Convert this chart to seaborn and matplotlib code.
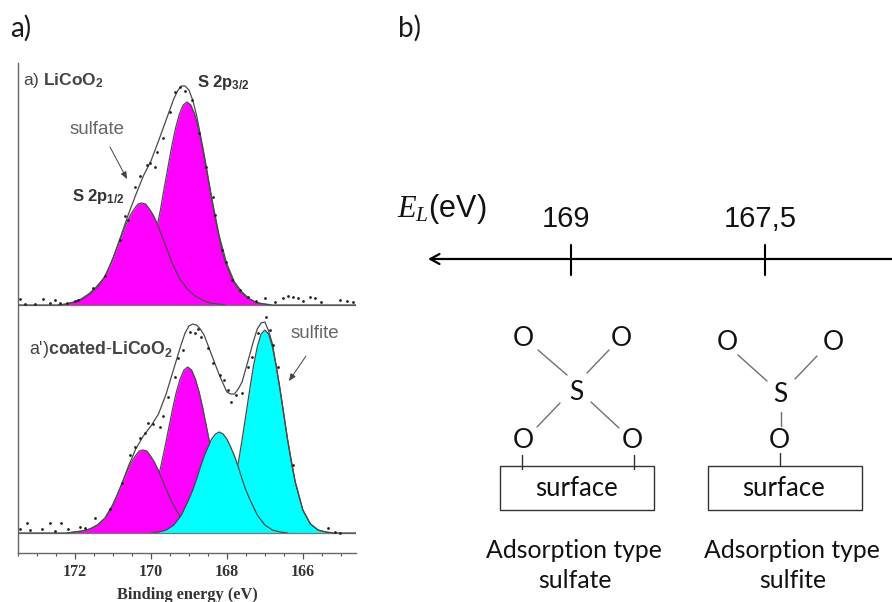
import matplotlib
matplotlib.use("Agg")
import matplotlib.pyplot as plt
from matplotlib.ticker import MultipleLocator
from matplotlib.patches import Rectangle
import numpy as np
import seaborn as sns

sns.set_theme(style="white")
plt.rcParams.update({
    "font.family": ["Liberation Sans", "DejaVu Sans"],
    "mathtext.fontset": "custom",
    "mathtext.rm": "Liberation Sans",
    "mathtext.bf": "Liberation Sans:bold",
    "mathtext.it": "Liberation Serif:italic",
})

# ---------- data ----------
BASE_TOP = 248
BASE_BOT = 20

top_e_p12 = [172.44,172.24,172.04,171.84,171.64,171.44,171.24,171.04,170.94,170.84,170.74,170.64,170.54,170.44,170.34,170.24,170.14,170.04,169.94,169.84,169.74,169.64,169.54,169.44,169.24,169.04,168.84,168.64,168.44,168.24,168.04]
top_h_p12 = [0,1,3,6,11,18,27,42,52,62,72,82,90,96,101,102,101,96,90,82,72,62,52,42,26,16,9,5,2,1,0]
top_e_p32 = [171.25,171.05,170.85,170.65,170.45,170.25,170.05,169.95,169.85,169.75,169.65,169.55,169.45,169.35,169.25,169.15,169.05,168.95,168.85,168.75,168.65,168.55,168.45,168.35,168.25,168.15,168.05,167.85,167.65,167.45,167.25,167.05,166.85]
top_h_p32 = [0,1,3,7,13,25,44,58,76,95,117,138,159,177,191,200,203,200,191,177,159,138,117,95,76,58,44,25,13,7,3,1,0]
top_e_env = [173.5,172.4,172.2,172.0,171.8,171.6,171.4,171.2,171.0,170.8,170.6,170.4,170.2,170.0,169.8,169.6,169.4,169.3,169.2,169.1,169.0,168.9,168.8,168.6,168.4,168.2,168.0,167.8,167.6,167.4,167.2,167.0,166.8,164.6]
top_h_env = [0,0,1,3,6,11,18,29,47,68,90,110,129,144,164,185,206,214,219,219,215,205,190,151,107,69,41,23,13,6,2,1,0,0]
top_dot_e = [173.45,173.32,173.05,172.83,172.66,172.53,172.39,172.22,172.0,171.91,171.52,171.21,170.82,170.68,170.6,170.42,170.29,170.11,170.03,169.89,169.85,169.68,169.5,169.37,169.24,169.11,168.93,168.73,168.54,168.36,168.32,168.14,168.01,167.86,167.66,167.44,167.22,167.0,166.74,166.52,166.39,166.25,166.12,165.99,165.82,165.68,165.51,165.03,164.85,164.68]
top_dot_i = [254,249,249,254,250,253,250,250,252,253,265,277,313,337,333,366,377,388,390,386,401,415,441,461,466,462,453,420,386,356,338,303,291,273,263,256,252,255,251,255,257,256,255,252,256,255,251,253,252,251]

bot_e_m1 = [172.21,172.01,171.81,171.61,171.41,171.21,171.01,170.91,170.81,170.71,170.61,170.51,170.41,170.31,170.21,170.11,170.01,169.91,169.81,169.71,169.61,169.51,169.41,169.21,169.01,168.81,168.61,168.41]
bot_h_m1 = [0,1,2,4,8,15,28,36,45,54,63,71,77,82,83,82,77,71,63,54,45,36,28,15,7,3,1,0]
bot_e_m2 = [170.83,170.63,170.43,170.23,170.03,169.83,169.73,169.63,169.53,169.43,169.33,169.23,169.13,169.03,168.93,168.83,168.73,168.63,168.53,168.43,168.33,168.23,168.03,167.83,167.63,167.43,167.23]
bot_h_m2 = [0,2,5,12,27,52,68,86,105,124,141,154,163,166,163,154,141,124,105,86,68,52,27,12,5,2,0]
bot_e_c1 = [170.0,169.8,169.6,169.4,169.2,169.0,168.9,168.8,168.7,168.6,168.5,168.4,168.3,168.2,168.1,168.0,167.9,167.8,167.7,167.6,167.5,167.4,167.2,167.0,166.8,166.6,166.4]
bot_h_c1 = [0,1,3,8,18,34,43,54,66,77,86,94,99,101,99,94,86,77,66,54,43,34,18,8,3,1,0]
bot_e_c2 = [168.8,168.6,168.4,168.2,168.0,167.8,167.7,167.6,167.5,167.4,167.3,167.2,167.1,167.0,166.9,166.8,166.7,166.6,166.5,166.4,166.3,166.2,166.0,165.8,165.6,165.4,165.2]
bot_h_c2 = [0,1,3,9,23,51,70,93,118,143,167,186,199,203,199,186,167,143,118,93,70,51,23,9,3,1,0]
bot_e_env = [173.5,172.2,172.0,171.8,171.6,171.4,171.2,171.0,170.8,170.6,170.4,170.2,170.0,169.8,169.6,169.4,169.2,169.1,169.0,168.9,168.8,168.7,168.6,168.4,168.2,168.0,167.9,167.8,167.7,167.6,167.4,167.3,167.2,167.1,167.0,166.9,166.8,166.6,166.4,166.2,166.0,165.8,165.6,165.4,165.2,164.6]
bot_h_env = [0,0,1,2,4,8,15,28,46,66,84,97,107,119,139,164,189,200,207,209,208,204,198,178,158,141,139,139,144,151,178,192,204,210,211,202,189,144,93,51,23,9,3,1,0,0]
bot_dot_e = [173.45,173.27,173.18,172.88,172.66,172.53,172.37,172.18,171.87,171.74,171.47,171.08,170.75,170.55,170.42,170.29,170.16,170.07,169.94,169.76,169.68,169.54,169.37,169.28,169.15,168.96,168.84,168.75,168.67,168.49,168.36,168.18,168.08,167.96,167.88,167.75,167.61,167.44,167.35,167.18,166.96,166.87,166.78,166.65,166.25,165.33,165.16,165.03]
bot_dot_i = [24,30,23,24,30,22,30,24,26,25,35,44,70,98,106,115,120,130,129,126,137,156,176,195,203,221,220,224,216,205,190,178,173,163,151,158,160,186,196,220,236,223,208,186,88,25,21,20]

tick_169 = "169"
tick_167 = "167,5"
xps_ticks = [172, 170, 168, 166]

MAGENTA = "#ff00ff"
CYAN = "#00ffff"
LINE = "#4a4a4a"

W, H = 892, 602
fig = plt.figure(figsize=(W / 100, H / 100), dpi=100, facecolor="white")

# ---------- panel a: XPS spectra ----------
ax = fig.add_axes([18 / W, (H - 553) / H, (356 - 18) / W, (553 - 63) / H])
ax.set_xlim(173.5, 164.6)
ax.set_ylim(0, 490)

def peak(e, h, base, color, z):
    e = np.array(e, dtype=float)
    y = np.array(h, dtype=float) + base
    ax.fill_between(e, base, y, color=color, lw=0, zorder=z)
    sns.lineplot(x=e, y=y, ax=ax, color=LINE, lw=0.9, sort=False, estimator=None, zorder=z + 0.5)

peak(top_e_p32, top_h_p32, BASE_TOP, MAGENTA, 2)
peak(top_e_p12, top_h_p12, BASE_TOP, MAGENTA, 3)
peak(bot_e_m2, bot_h_m2, BASE_BOT, MAGENTA, 2)
peak(bot_e_m1, bot_h_m1, BASE_BOT, MAGENTA, 3)
peak(bot_e_c2, bot_h_c2, BASE_BOT, CYAN, 4)
peak(bot_e_c1, bot_h_c1, BASE_BOT, CYAN, 5)

for base in (BASE_TOP, BASE_BOT):
    ax.axhline(base, color="#777777", lw=0.9, zorder=6)

sns.lineplot(x=np.array(top_e_env), y=np.array(top_h_env) + BASE_TOP, ax=ax, color=LINE, lw=0.9,
             sort=False, estimator=None, zorder=7)
sns.lineplot(x=np.array(bot_e_env), y=np.array(bot_h_env) + BASE_BOT, ax=ax, color=LINE, lw=0.9,
             sort=False, estimator=None, zorder=7)
sns.scatterplot(x=top_dot_e, y=top_dot_i, ax=ax, color="#222222", s=4, lw=0, zorder=8)
sns.scatterplot(x=bot_dot_e, y=bot_dot_i, ax=ax, color="#222222", s=4, lw=0, zorder=8)

ax.xaxis.set_major_locator(MultipleLocator(2))
ax.xaxis.set_minor_locator(MultipleLocator(0.5))
ax.set_xticks(xps_ticks)
ax.set_yticks([])
ax.tick_params(axis="x", which="major", bottom=True, length=4, width=0.9, color="#555555", pad=4, labelcolor="#333333")
ax.tick_params(axis="x", which="minor", bottom=True, length=2, width=0.8, color="#555555")
for t in ax.get_xticklabels():
    t.set_fontfamily("Liberation Serif")
    t.set_fontweight("bold")
    t.set_fontsize(11.5)
ax.set_xlabel("Binding energy (eV)", fontfamily="Liberation Serif", fontweight="bold",
              fontsize=11.8, color="#333333", labelpad=5)
ax.set_ylabel("")
sns.despine(ax=ax, top=True, right=True)
for s in ("left", "bottom"):
    ax.spines[s].set_color("#666666")
    ax.spines[s].set_linewidth(1.0)

# ---------- overlay in picture coordinates: annotations and panel b ----------
ov = fig.add_axes([0, 0, 1, 1], facecolor="none")
ov.set_xlim(0, W)
ov.set_ylim(H, 0)
ov.axis("off")

LAB = dict(family="Lato", color="#1a1a1a", fontsize=20, va="center")
ov.text(10, 28, "a)", ha="left", **LAB)
ov.text(398, 28, "b)", ha="left", **LAB)

ov.text(23, 80, r"a) $\mathbf{LiCoO_2}$", fontsize=12.5, color="#444444", va="center")
ov.text(197, 82, r"$\mathbf{S\ 2p_{3/2}}$", fontsize=12, color="#333333", va="center")
ov.text(72, 197, r"$\mathbf{S\ 2p_{1/2}}$", fontsize=12, color="#333333", va="center")
ov.text(70, 129, "sulfate", fontsize=13.5, color="#666666", va="center")
ov.text(29, 350, r"a')$\mathbf{coated\text{-}LiCoO_2}$", fontsize=12.8, color="#444444", va="center")
ov.text(291, 334, "sulfite", fontsize=13.4, color="#666666", va="center")
for p0, p1 in (((110, 147), (127, 179)), ((306, 356), (289, 381))):
    ov.annotate("", xy=p1, xytext=p0, arrowprops=dict(arrowstyle="-|>,head_width=0.15,head_length=0.35",
                color="#444444", lw=0.7, shrinkA=0, shrinkB=0))

# axis of panel b
ov.annotate("", xy=(428, 259), xytext=(892, 259),
            arrowprops=dict(arrowstyle="->,head_width=0.3,head_length=0.55", color="black", lw=1.6,
                            shrinkA=0, shrinkB=0))
ov.plot([571, 571], [245, 275], color="black", lw=1.5)
ov.plot([765, 765], [245, 275], color="black", lw=1.5)
ov.text(566, 219, tick_169, ha="center", va="center", fontsize=21, color="#111111")
ov.text(760, 219, tick_167, ha="center", va="center", fontsize=21, color="#111111")
ov.text(397, 209, r"$E_L$(eV)", ha="left", va="center", fontsize=22, color="#111111")

ATOM = dict(family="Lato", ha="center", va="center", fontsize=19, color="#111111")
for x, y, s in ((523, 339, "O"), (621, 339, "O"), (576, 393, "S"), (523, 440, "O"), (632, 440, "O"),
                (727, 343, "O"), (833, 343, "O"), (780, 394, "S"), (779, 441, "O")):
    ov.text(x, y, s, **ATOM)

for (x0, y0), (x1, y1) in (((538, 350), (567, 375)), ((609, 350), (587, 373)),
                           ((560, 403), (537, 427)), ((591, 402), (619, 428)),
                           ((738, 355), (767, 381)), ((817, 356), (795, 379)),
                           ((781, 412), (781, 426))):
    ov.plot([x0, x1], [y0, y1], color="#707070", lw=1.0)
for x, y0, y1 in ((522, 455, 469), (634, 455, 469), (780, 453, 466)):
    ov.plot([x, x], [y0, y1], color="#333333", lw=1.0)

for x0, x1 in ((500, 654), (708, 862)):
    ov.add_patch(Rectangle((x0, 466), x1 - x0, 44, fill=False, ec="#333333", lw=1.0))
TXT = dict(family="Lato", ha="center", va="center", color="#111111")
ov.text(576, 488, "surface", fontsize=18.5, **TXT)
ov.text(783, 488, "surface", fontsize=18.5, **TXT)
ov.text(574, 550, "Adsorption type", fontsize=17.8, **TXT)
ov.text(575, 581, "sulfate", fontsize=17.8, **TXT)
ov.text(792, 550, "Adsorption type", fontsize=17.8, **TXT)
ov.text(793, 581, "sulfite", fontsize=17.8, **TXT)

fig.savefig("out.png", dpi=100, facecolor="white")
